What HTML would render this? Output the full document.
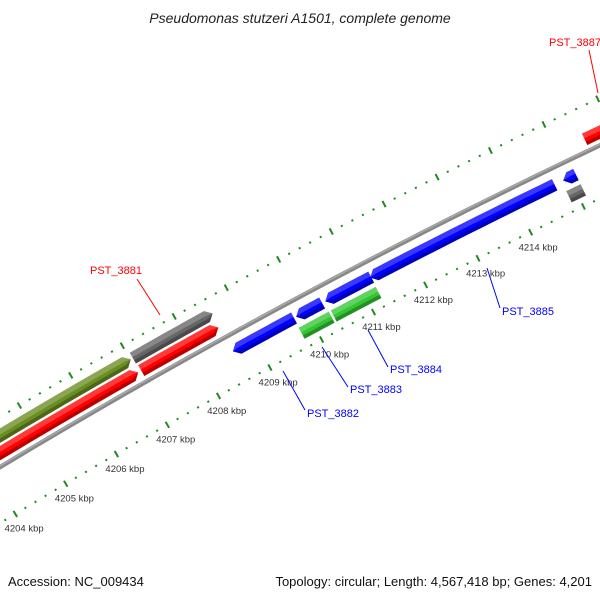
<!DOCTYPE html>
<html><head><meta charset="utf-8"><style>
html,body{margin:0;padding:0;background:#fff;width:600px;height:600px;overflow:hidden}
svg{display:block}
svg text{font-family:"Liberation Sans","DejaVu Sans",sans-serif}
</style></head><body>
<svg id="map" width="600" height="600" viewBox="0 0 600 600" xmlns="http://www.w3.org/2000/svg">
<rect width="600" height="600" fill="#fff"/>
<text x="300" y="23" text-anchor="middle" font-size="14" font-style="italic" fill="#222">Pseudomonas stutzeri A1501, complete genome</text>
<g id="rulers"></g>
<g id="backbone"></g>
<g id="features"></g>
<g id="labels">
 <line x1="137" y1="279" x2="160" y2="315" stroke="#f00" stroke-width="1"/>
 <text x="90" y="274" font-size="11" fill="#f00">PST_3881</text>
 <line x1="283" y1="371" x2="305" y2="410" stroke="#00f" stroke-width="1"/>
 <text x="307" y="417" font-size="11" fill="#00f">PST_3882</text>
 <line x1="322" y1="347" x2="348" y2="387" stroke="#00f" stroke-width="1"/>
 <text x="350" y="393" font-size="11" fill="#00f">PST_3883</text>
 <line x1="368" y1="330" x2="388" y2="367" stroke="#00f" stroke-width="1"/>
 <text x="390" y="373" font-size="11" fill="#00f">PST_3884</text>
 <line x1="487" y1="268" x2="500" y2="308" stroke="#00f" stroke-width="1"/>
 <text x="502" y="315" font-size="11" fill="#00f">PST_3885</text>
 <line x1="589" y1="50" x2="598" y2="93" stroke="#f00" stroke-width="1"/>
 <text x="549" y="46" font-size="11" fill="#f00">PST_3887</text>
</g>
<text x="8" y="586" font-size="13" fill="#111">Accession: NC_009434</text>
<text x="592" y="586" text-anchor="end" font-size="13" fill="#111">Topology: circular; Length: 4,567,418 bp; Genes: 4,201</text>
</svg>
<script>
// Data (kbp)
const featStart = [4202.0, 4207.05, 4215.51, 4202.0, 4207.07, 4208.58, 4209.80, 4210.36, 4211.22, 4214.88, 4209.75, 4210.37, 4214.85];
const featEnd   = [4207.01, 4208.59, 4218.0, 4207.01, 4208.56, 4209.76, 4210.30, 4211.24, 4214.72, 4215.12, 4210.33, 4211.23, 4215.12];
const featStrand = [1, 1, 1, 1, 1, -1, -1, -1, -1, -1, 0, 0, 0];
const featSlot  = [0, 0, 1, 1, 1, 2, 2, 2, 2, 2, 3, 3, 3];
const featColor = ["#6b8e23", "#666666", "#ff0000", "#ff0000", "#ff0000", "#0000ff", "#0000ff", "#0000ff", "#0000ff", "#0000ff", "#33c633", "#33c633", "#666666"];
const tickLabels = ["4204 kbp","4205 kbp","4206 kbp","4207 kbp","4208 kbp","4209 kbp","4210 kbp","4211 kbp","4212 kbp","4213 kbp","4214 kbp"];
const tickKbp = [4204,4205,4206,4207,4208,4209,4210,4211,4212,4213,4214];

const CX=3555, CY=6375, T0=-2.0712, K0=4209, DK=0.00858;
const slotR=[6922,6907,6879,6862];
const NS="http://www.w3.org/2000/svg";
function pt(r,k){const t=T0+(k-K0)*DK;return [CX+r*Math.cos(t),CY+r*Math.sin(t)];}
function mk(tag,attrs,parent){const e=document.createElementNS(NS,tag);for(const a in attrs)e.setAttribute(a,attrs[a]);parent.appendChild(e);return e;}
function arcPts(r,k1,k2,n){const a=[];for(let i=0;i<=n;i++)a.push(pt(r,k1+(k2-k1)*i/n));return a;}

// rulers
const rg=document.getElementById('rulers');
[6938,6847].forEach((R,ri)=>{
  for(let m=4203*5;m<=4217*5;m++){
    const k=m/5; const major=(m%5===0);
    const h=major?3.5:1;
    const a=pt(R-h,k), b=pt(R+h,k);
    const l=mk('line',{x1:a[0],y1:a[1],x2:b[0],y2:b[1],stroke:'#1f8a1f','stroke-width':2},rg);
    
    
  }
});
tickKbp.forEach((k,i)=>{
  const p=pt(6847-17,k);
  const t=mk('text',{x:p[0],y:p[1]+3,'text-anchor':'middle','font-size':'9.5',fill:'#333'},rg);
  t.textContent=tickLabels[i];
  
  
});

// backbone
const bg=document.getElementById('backbone');
const bb=mk('polyline',{points:arcPts(6895,4203,4217,60).map(p=>p.join(',')).join(' '),fill:'none',stroke:'#888','stroke-width':4.5},bg);


const bh=mk('polyline',{points:arcPts(6896,4203,4217,60).map(p=>p.join(',')).join(' '),fill:'none',stroke:'#aaa','stroke-width':1.5},bg);



// features
const fg=document.getElementById('features');
const TH=12.5, AH=0.11;
function featPoly(r,k1,k2,s,ro,ri){
  let a=k1,b=k2; const len=k2-k1; const ah=Math.min(AH,len);
  const out=[],inn=[];
  if(s===1){b=k2-ah;} else if(s===-1){a=k1+ah;}
  arcPts(ro,a,b,12).forEach(p=>out.push(p));
  if(s===1) out.push(pt(r,k2));
  arcPts(ri,b,a,12).forEach(p=>inn.push(p));
  if(s===-1) inn.push(pt(r,k1));
  return out.concat(inn).map(p=>p.map(v=>v.toFixed(2)).join(',')).join(' ');
}
featStart.forEach((k1,i)=>{
  const k2=featEnd[i], r=slotR[featSlot[i]], s=featStrand[i];
  const g=mk('g',{},fg);
  
  
  mk('polygon',{points:featPoly(r,k1,k2,s,r+TH/2,r-TH/2),fill:featColor[i]},g);
  mk('polygon',{points:featPoly(r,k1,k2,s,r+TH/2,r+1),fill:'#fff','fill-opacity':0.22},g);
  mk('polygon',{points:featPoly(r,k1,k2,s,r-2.5,r-TH/2),fill:'#000','fill-opacity':0.28},g);
});
</script>
</body></html>
